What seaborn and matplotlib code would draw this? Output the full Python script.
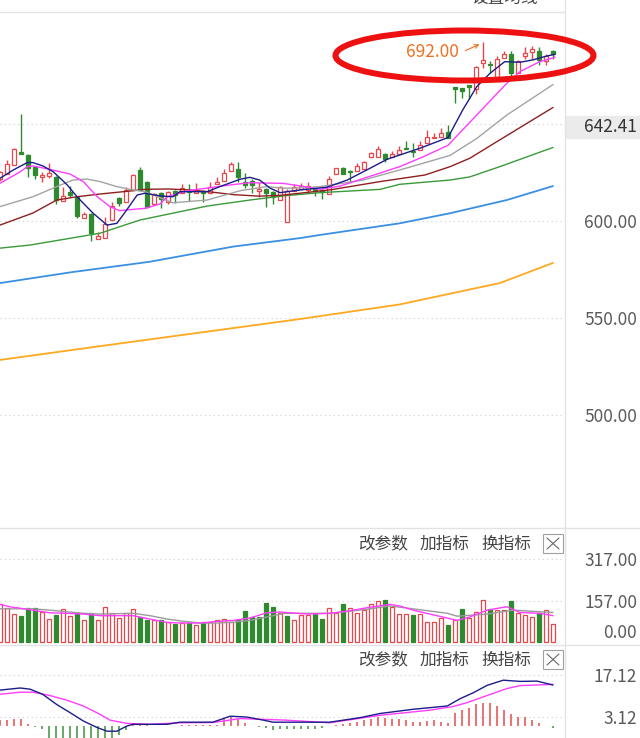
import numpy as np
import matplotlib
matplotlib.use("Agg")
import matplotlib.pyplot as plt
import matplotlib.transforms as mtransforms
from matplotlib.patches import Ellipse, Rectangle
from matplotlib.lines import Line2D
import seaborn as sns

# -----------------------------
# Data
# -----------------------------
opens = [621.5, 624.2, 629.0, 635.5, 634.0, 627.8, 622.7, 623.2, 622.7, 610.3,
         615.0, 612.4, 601.5, 603.6, 590.7, 591.2, 600.5, 611.8, 609.8, 616.0,
         626.3, 620.0, 608.8, 614.4, 610.0, 615.5, 614.4, 616.0, 614.6, 615.6,
         614.4, 619.0, 620.8, 626.0, 626.6, 620.3, 620.8, 615.6, 616.3, 615.1,
         610.8, 599.6, 615.6, 616.5, 616.0, 616.5, 616.0, 613.8, 624.2, 627.5,
         626.0, 625.8, 626.6, 632.8, 632.8, 634.5, 632.8, 634.5, 637.8, 636.0,
         636.4, 640.0, 642.6, 643.1, 646.0, 668.9, 668.4, 670.0, 667.9, 681.3,
         681.0, 674.4, 683.9, 686.0, 676.1, 685.0, 687.3, 687.8, 682.6, 687.8]
closes = [625.3, 629.4, 637.0, 634.6, 627.3, 623.7, 623.9, 624.7, 610.8, 612.9,
          613.4, 602.6, 603.6, 593.8, 592.3, 598.5, 607.7, 609.3, 616.0, 623.7,
          616.0, 607.2, 614.0, 611.3, 615.0, 613.4, 617.0, 615.0, 615.5, 614.5,
          617.5, 620.3, 624.9, 629.4, 622.5, 618.6, 618.7, 616.3, 614.6, 612.5,
          617.7, 615.6, 617.4, 618.0, 618.0, 615.6, 615.1, 621.6, 627.2, 624.2,
          625.4, 628.4, 630.4, 634.9, 637.0, 631.8, 634.5, 636.6, 637.3, 635.4,
          639.0, 643.1, 643.5, 645.2, 642.6, 667.9, 667.2, 668.9, 679.5, 683.0,
          680.3, 683.3, 686.0, 676.1, 682.6, 686.4, 688.5, 683.0, 685.0, 686.0]
highs = [626.0, 631.5, 637.5, 655.0, 634.5, 628.0, 625.2, 630.0, 623.0, 617.5,
         618.0, 613.0, 604.6, 604.0, 594.3, 602.0, 609.8, 612.5, 617.5, 624.0,
         627.8, 620.5, 614.5, 614.8, 615.5, 616.0, 619.0, 619.0, 619.5, 616.0,
         620.0, 622.5, 627.0, 630.5, 630.6, 624.9, 621.5, 620.0, 617.0, 615.5,
         618.0, 616.5, 619.0, 619.5, 620.0, 617.0, 616.5, 623.0, 627.5, 628.0,
         626.2, 630.0, 631.0, 635.5, 638.7, 635.0, 636.0, 638.6, 641.2, 640.0,
         641.0, 647.0, 645.5, 647.8, 649.5, 669.2, 668.6, 670.3, 680.0, 692.0,
         682.5, 685.0, 687.5, 687.7, 683.0, 689.6, 690.2, 689.6, 686.1, 688.0]
lows = [620.5, 624.2, 628.9, 634.3, 622.7, 621.6, 620.0, 622.0, 608.8, 610.3,
        612.4, 601.5, 601.5, 589.7, 590.7, 591.2, 600.5, 607.5, 609.8, 616.0,
        616.0, 606.5, 608.8, 606.7, 608.5, 609.3, 614.4, 610.5, 614.6, 610.0,
        614.4, 619.0, 620.8, 626.0, 620.0, 617.0, 614.5, 612.5, 607.2, 608.5,
        610.8, 599.6, 615.6, 616.5, 615.0, 613.0, 611.5, 613.8, 624.2, 624.0,
        620.3, 625.8, 626.6, 632.8, 632.8, 630.4, 632.8, 634.5, 637.0, 633.0,
        636.4, 640.0, 642.6, 643.1, 642.6, 660.7, 663.5, 663.0, 665.5, 678.7,
        676.4, 672.8, 683.9, 672.7, 676.1, 683.3, 683.6, 680.3, 680.6, 683.5]

# moving averages of price (x = candle index)
ma5_x = [0, 1.9, 3.9, 4.7, 6.1, 7.6, 9.6, 11, 13.3, 15.3, 16.7, 18.1, 19.6, 20.7, 22.9,
         24.7, 25.7, 29.6, 31.4, 34.3, 35.7, 37.1, 38.6, 40, 42.9, 46.7, 49.6, 52.4,
         55.3, 57.1, 60, 64, 66.1, 68.1, 70, 72.1, 74.3, 76.1, 78.1, 79.3]
ma5_y = [622, 626.3, 630.1, 630.1, 628.4, 625.4, 618.6, 612.5, 604, 597.9, 598.8, 605.7,
         613.4, 614.3, 612.9, 612.5, 615.1, 615.1, 617.7, 621.5, 622.5, 621.1, 616.9,
         614.6, 616, 617.4, 621.1, 626.3, 631.8, 634, 637.5, 643, 657.2, 669.2, 676.1,
         682.1, 681.8, 683, 685, 685.9]
ma10_x = [0, 2.9, 3.9, 4.7, 7.1, 10, 11.9, 13.9, 15.7, 17.1, 19, 20.7, 22.9, 23.9, 26.7,
          32.9, 35.7, 40.4, 43, 45.7, 48.6, 52.4, 57.1, 60.4, 64, 68.1, 72.4, 74.3,
          77.1, 79.3]
ma10_y = [619.4, 625.4, 628, 628.4, 626.6, 624.2, 620.3, 612.5, 607.4, 605.3, 606, 606.5,
          608.8, 612.5, 615.5, 618.6, 619.7, 619.4, 618, 616.3, 618, 622.5, 628, 633,
          639, 654.6, 671, 677, 682.1, 684.4]
ma20_x = [0, 4.7, 8.1, 10.4, 12.4, 14.3, 16.7, 19, 20.7, 24.7, 29.6, 34.3, 38.1, 40.4,
          42.9, 45.7, 51.9, 58.1, 64.3, 68.1, 72.4, 79]
ma20_y = [607.4, 612.5, 617.7, 621.1, 621.6, 620.3, 617.7, 616, 615.1, 609.4, 610.8,
          615.6, 617.7, 616.9, 617, 617.7, 621.1, 627.3, 633.8, 642.5, 654.6, 670.3]
ma30_x = [0, 4.7, 8.1, 11, 14.3, 19, 20.7, 24, 27, 30, 33.3, 37, 40, 47.1, 54.3, 60.7,
          64.3, 67.1, 71.4, 79]
ma30_y = [597.9, 604.1, 610.8, 612.5, 613.9, 615.6, 616.3, 616.5, 616, 615, 613.6,
          612.8, 613.2, 616, 620.3, 623.7, 628, 632.3, 641.8, 658.5]
ma60_x = [0, 4.3, 14.3, 20, 29.6, 35.7, 40.4, 45.7, 54.3, 57.1, 64.3, 67.1, 71.4, 79]
ma60_y = [586, 587.6, 593.7, 600.5, 607.7, 610.8, 612.9, 614.6, 616.3, 618.9, 621.1,
          622.7, 628, 637.9]
ma120_x = [0, 10, 21.4, 33.3, 42.9, 45.7, 57.1, 64.3, 72.4, 79]
ma120_y = [568, 573.5, 579, 586.8, 591.2, 592.8, 598.8, 604, 610.8, 618]
ma250_x = [0, 14.3, 28.6, 42.9, 57.1, 71.4, 79]
ma250_y = [528.4, 535.5, 542.5, 549.5, 557, 568, 578.4]

# volume
volume = [146, 130, 108, 100, 131, 131, 114, 90, 104, 126,
          98, 110, 86, 113, 86, 133, 113, 94, 110, 125,
          95, 83, 86, 83, 78, 68, 73, 73, 66, 78,
          78, 86, 90, 78, 86, 117, 96, 96, 148, 133,
          113, 98, 83, 105, 102, 108, 90, 130, 113, 146,
          130, 113, 122, 144, 156, 159, 133, 108, 108, 105,
          108, 78, 75, 94, 66, 83, 128, 91, 114, 160,
          128, 124, 124, 156, 110, 102, 96, 113, 124, 68]
vol_up = list("rrrgggrrgrrgrgrrrrrrggrgrgrgrgrrrrggggggrgrrrggrrgrrrrrgrrrgrrrrgrgrrrgrrgrrrgrr")
vma5_x = [0, 1.4, 4.7, 7.1, 9.6, 11.9, 14.3, 16.7, 19, 21.4, 23.9, 26.1, 28.6, 31, 33.3,
          35.7, 38.1, 40, 43.9, 47.1, 49.6, 52.4, 55.7, 57.1, 59, 61.4, 63.9, 65.3,
          67.1, 69.6, 72.4, 74.3, 77.1, 79]
vma5_y = [144, 135, 122, 112, 110, 107, 101, 101, 101, 88, 75, 73, 73, 79, 83, 92, 112,
          115, 107, 110, 118, 131, 144, 138, 122, 107, 92, 83, 96, 122, 135, 113, 110, 101]
vma10_x = [0, 4.7, 7.1, 11.9, 14.3, 19, 21.4, 23.9, 26.1, 28.6, 31, 33.3, 35.7, 38.1,
           40.7, 47.1, 52.4, 55.7, 59, 63.9, 65.3, 69.6, 73.3, 79]
vma10_y = [127, 127, 122, 110, 107, 110, 101, 88, 80, 73, 73, 76, 83, 96, 110, 110, 125,
           138, 127, 110, 99, 107, 122, 113]

# MACD
dif_x = [0, 2.9, 4.3, 6.1, 8.1, 10, 11.9, 13.9, 15.3, 16.7, 18.1, 19, 23.9, 25.7, 30.4,
         32.9, 35.3, 37.6, 39, 47.1, 51.4, 54.3, 59, 63.9, 65.7, 67.6, 69.6, 71.9,
         74.3, 76.7, 79]
dif_y = [12.1, 12.8, 12.4, 10.7, 7.3, 4.6, 1.8, -0.4, -1.6, -1.6, 0.1, 0.7, 0.7, 1.4,
         1.4, 3.4, 3.1, 2.1, 1.4, 1.4, 2.9, 4.3, 5.7, 6.8, 9.2, 11.2, 13.7, 15.4, 15,
         15.1, 13.8]
dea_x = [0, 2.9, 4.7, 7.1, 9.6, 11.9, 14.3, 15.7, 18.1, 21.4, 25.7, 30.4, 34.3, 40.7,
         47.1, 54.3, 61.4, 64.7, 66.7, 69.6, 72.4, 74.3, 79]
dea_y = [10.7, 11.4, 11.4, 10.3, 8.7, 6.8, 4, 2.1, 1, 0.7, 1.2, 1.3, 2.6, 2.1, 1.2,
         3.7, 5.4, 6.6, 7.9, 10.3, 12.6, 13.6, 14]
macd_hist = [2.1, 2.1, 2.6, 2.4, 0.8, -0.3, -0.9, -4, -4, -4,
             -4, -4, -4, -4, -4, -4, -4, -2.8, -1.2, 0.5,
             0.3, 0.3, 0.2, 0.1, 0.2, 0.2, 0.6, 0.5, 0.5, 0.5,
             0.5, 0.6, 2.4, 3.0, 2.3, 1.1, 0.2, -0.2, -0.5, -1.2,
             -1.0, -1.0, -1.0, -0.8, -0.8, -0.8, -0.6, 0.1, 0.5, 0.8,
             1.2, 1.6, 2.0, 2.6, 3.0, 2.9, 2.4, 2.4, 2.1, 1.6,
             1.6, 1.8, 2.0, 1.6, 1.1, 4.3, 5.4, 6.2, 7.3, 7.9,
             7.9, 6.8, 5.4, 4.0, 3.2, 3.0, 2.1, 1.2, 0.0, -0.5]

price_grid = [500, 550, 600, 650]
price_labels = ["500.00", "550.00", "600.00"]
vol_grid = [157, 317]
macd_grid = [3.12, 17.12]
header_items = ["改参数", "加指标", "换指标"]

# -----------------------------
# Style
# -----------------------------
sns.set_theme(style="white")
plt.rcParams["font.family"] = ["Noto Sans CJK SC", "DejaVu Sans"]

RED = "#e8464a"
GREEN = "#2f8a2f"
GRID = "#cfcfcf"
LABEL = "#5a5a5a"
SEP = "#e2e2e2"

W, H = 640, 738
fig = plt.figure(figsize=(W / 100, H / 100), dpi=100, facecolor="white")


def fx(px):
    return px / W


def fy(py):
    return 1 - py / H


ax_k = fig.add_axes([0, fy(527), fx(565), (527 - 12) / H])
ax_v = fig.add_axes([0, fy(644), fx(565), (644 - 529) / H])
ax_m = fig.add_axes([0, 0, fx(565), (738 - 646) / H])

for ax in (ax_k, ax_v, ax_m):
    ax.set_xlim(0, 565 / 7)
    for s in ax.spines.values():
        s.set_visible(False)
    ax.set_xticks([])
    ax.set_yticks([])
    ax.set_facecolor("white")

ax_k.set_ylim(442.3, 707.7)
ax_v.set_ylim(-6.9, 431)
ax_m.set_ylim(-3.87, 26.8)

dotted = (0, (1, 3))
for v in price_grid:
    ax_k.axhline(v, color=GRID, lw=0.8, ls=dotted, zorder=0)
for v in vol_grid:
    ax_v.axhline(v, color=GRID, lw=0.8, ls=dotted, zorder=0)
for v in macd_grid:
    ax_m.axhline(v, color=GRID, lw=0.8, ls=dotted, zorder=0)

# -----------------------------
# Candles
# -----------------------------
x = np.arange(len(opens))
o = np.array(opens)
c = np.array(closes)
up = c >= o
cols = [RED if u else GREEN for u in up]
ax_k.vlines(x, lows, highs, colors=cols, lw=1.0, zorder=2)
body_lo = np.minimum(o, c)
body_h = np.maximum(np.abs(c - o), 0.45)
ax_k.bar(x, body_h, bottom=body_lo, width=0.7,
         color=["white" if u else GREEN for u in up],
         edgecolor=cols, linewidth=0.9, zorder=3)

ma_lines = [
    (ma250_x, ma250_y, "#ffa820", 1.3),
    (ma120_x, ma120_y, "#3b8fe3", 1.3),
    (ma60_x, ma60_y, "#3a9a3a", 1.0),
    (ma30_x, ma30_y, "#8e1f1f", 1.0),
    (ma20_x, ma20_y, "#a3a3a3", 1.0),
    (ma10_x, ma10_y, "#ff3cff", 1.0),
    (ma5_x, ma5_y, "#1c1c8a", 1.0),
]
for mx, my, col, lw in ma_lines:
    sns.lineplot(x=mx, y=my, ax=ax_k, color=col, lw=lw, zorder=4)

# high marker + ellipse
ax_k.text(459 / 7, 686.9, "692.00", color="#f07022", fontsize=12.5,
          ha="right", va="center", zorder=6)
ax_k.annotate("", xy=(68.85, 691.6), xytext=(66.1, 687.2),
              arrowprops=dict(arrowstyle="->", color="#f07022", lw=0.8,
                              mutation_scale=7), zorder=6)
fig.add_artist(Ellipse((fx(464.5), fy(55.5)), 258 / W, 50 / H,
                       transform=fig.transFigure, fill=False,
                       edgecolor="#ee1111", lw=4.3, zorder=10))

# -----------------------------
# Volume
# -----------------------------
vcols = [RED if u == "r" else GREEN for u in vol_up]
ax_v.bar(x, volume, width=0.7,
         color=["white" if u == "r" else GREEN for u in vol_up],
         edgecolor=vcols, linewidth=0.9, zorder=2)
sns.lineplot(x=vma10_x, y=vma10_y, ax=ax_v, color="#9a9a9a", lw=1.0, zorder=4)
sns.lineplot(x=vma5_x, y=vma5_y, ax=ax_v, color="#ff3cff", lw=1.0, zorder=4)

# -----------------------------
# MACD
# -----------------------------
hcols = ["#e85a5a" if h >= 0 else "#4e9a4e" for h in macd_hist]
ax_m.vlines(x, 0, macd_hist, colors=hcols, lw=1.2, zorder=2)
sns.lineplot(x=dea_x, y=dea_y, ax=ax_m, color="#ff3cff", lw=1.0, zorder=4)
sns.lineplot(x=dif_x, y=dif_y, ax=ax_m, color="#1c1c8a", lw=1.0, zorder=4)

for ax in (ax_k, ax_v, ax_m):
    ax.set_xlabel("")
    ax.set_ylabel("")

# -----------------------------
# Right-side labels
# -----------------------------
shift = mtransforms.ScaledTranslation(0, -2 / 100, fig.dpi_scale_trans)


def right_label(ax, val, txt, color=LABEL):
    tr = mtransforms.blended_transform_factory(fig.transFigure, ax.transData) + shift
    ax.text(fx(637), val, txt, transform=tr, ha="right", va="center",
            fontsize=12.5, color=color, clip_on=False)


for v, t in zip(price_grid[:3], price_labels):
    right_label(ax_k, v, t)
fig.add_artist(Rectangle((fx(566), fy(138)), 74 / W, 22 / H,
                         transform=fig.transFigure, color="#ebebeb", zorder=1))
fig.text(fx(637), fy(127), "642.41", ha="right", va="center",
         fontsize=12.5, color="#333333", zorder=2)

right_label(ax_v, 317, "317.00")
right_label(ax_v, 157, "157.00")
fig.text(fx(637), fy(633), "0.00", ha="right", va="center", fontsize=12.5, color=LABEL)
right_label(ax_m, 17.12, "17.12")
right_label(ax_m, 3.12, "3.12")

# -----------------------------
# Panel headers, separators
# -----------------------------
for ypx in (544, 660):
    for cx, t in zip((383, 444, 506), header_items):
        fig.text(fx(cx), fy(ypx), t, ha="center", va="center",
                 fontsize=12, color="#444444")
    top = ypx - 10
    fig.add_artist(Rectangle((fx(543), fy(top + 19)), 20 / W, 19 / H,
                             transform=fig.transFigure, fill=False,
                             edgecolor="#a0a0a0", lw=0.8))
    fig.add_artist(Line2D([fx(547), fx(559)], [fy(top + 4), fy(top + 15)],
                          transform=fig.transFigure, color="#666666", lw=0.8))
    fig.add_artist(Line2D([fx(547), fx(559)], [fy(top + 15), fy(top + 4)],
                          transform=fig.transFigure, color="#666666", lw=0.8))

# partly scrolled-off button label at the very top (cut in the original too)
fig.text(fx(505), fy(-2), "设置均线", ha="center", va="center",
         fontsize=12, color="#444444")

fig.add_artist(Line2D([0, fx(565)], [fy(12), fy(12)], transform=fig.transFigure,
                      color=SEP, lw=1))
for ypx in (528, 645):
    fig.add_artist(Line2D([0, 1], [fy(ypx), fy(ypx)], transform=fig.transFigure,
                          color=SEP, lw=1))
fig.add_artist(Line2D([fx(565), fx(565)], [0, 1], transform=fig.transFigure,
                      color=SEP, lw=1))

fig.savefig("out.png", dpi=100, facecolor="white")
print("Saved out.png")
